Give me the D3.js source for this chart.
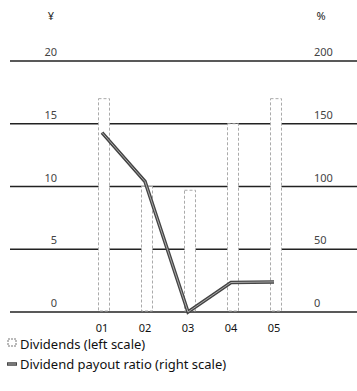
<!DOCTYPE html>
<meta charset="utf-8">
<title>Dividends</title>
<script src="https://d3js.org/d3.v7.min.js"></script>
<style>
    body { margin: 0; background: #fff; }
    text { font-family: "Noto Sans", "Open Sans", sans-serif; }
</style>
<body>
<div id="chart"></div>
<script>
    // data
    var years = ["01", "02", "03", "04", "05"];
    var dividends = [17, 10, 9.7, 15, 17];        // yen, left scale
    var payoutRatio = [143, 104, 0, 23.5, 24];    // %, right scale
    var leftTicks = [0, 5, 10, 15, 20];
    var rightTicks = [0, 50, 100, 150, 200];

    var width = 357, height = 391;

    var svg = d3.select("#chart")
        .append("svg")
        .attr("width", width)
        .attr("height", height);

    // scales
    var x = d3.scalePoint().domain(years).range([102, 274]);
    var yLeft = d3.scaleLinear().domain([0, 20]).range([312, 61]);
    var yRight = d3.scaleLinear().domain([0, 200]).range([312, 61]);

    // grid lines
    svg.selectAll(".grid")
        .data(leftTicks).enter()
        .append("line")
        .attr("x1", 10).attr("x2", width)
        .attr("y1", function(d) { return yLeft(d); })
        .attr("y2", function(d) { return yLeft(d); })
        .style("stroke", "#222")
        .style("stroke-width", 1.4);

    // left tick labels
    svg.selectAll(".lt")
        .data(leftTicks).enter()
        .append("text")
        .attr("x", 57)
        .attr("y", function(d) { return yLeft(d) - 5; })
        .attr("text-anchor", "end")
        .style("font-size", "11px")
        .style("fill", "#444")
        .text(function(d) { return d; });

    // right tick labels
    svg.selectAll(".rt")
        .data(rightTicks).enter()
        .append("text")
        .attr("x", 314)
        .attr("y", function(d) { return yRight(d) - 5; })
        .attr("text-anchor", "start")
        .style("font-size", "11px")
        .style("fill", "#444")
        .text(function(d) { return d; });

    // unit labels
    svg.append("text").attr("x", 51).attr("y", 20)
        .attr("text-anchor", "middle").style("font-size", "11px").style("fill", "#222").text("¥");
    svg.append("text").attr("x", 321).attr("y", 20)
        .attr("text-anchor", "middle").style("font-size", "11px").style("fill", "#222").text("%");

    // bars: white with dashed light outline
    var bw = 11;
    svg.selectAll(".bar")
        .data(dividends).enter()
        .append("rect")
        .attr("x", function(d, i) { return x(years[i]) + 2 - bw / 2; })
        .attr("y", function(d) { return yLeft(d); })
        .attr("width", bw)
        .attr("height", function(d) { return yLeft(0) - yLeft(d) - 1; })
        .style("fill", "#fff")
        .style("stroke", "#aaa")
        .style("stroke-width", 1)
        .style("stroke-dasharray", "3,2");

    // payout ratio line
    var line = d3.line()
        .x(function(d, i) { return x(years[i]); })
        .y(function(d) { return yRight(d); });

    svg.append("path")
        .datum(payoutRatio)
        .attr("d", line)
        .style("fill", "none")
        .style("stroke", "#444")
        .style("stroke-width", 3.5);
    svg.append("path")
        .datum(payoutRatio)
        .attr("d", line)
        .style("fill", "none")
        .style("stroke", "#aaa")
        .style("stroke-width", 1);

    // category labels
    svg.selectAll(".cat")
        .data(years).enter()
        .append("text")
        .attr("x", function(d) { return x(d); })
        .attr("y", 331.5)
        .attr("text-anchor", "middle")
        .style("font-size", "11px")
        .style("fill", "#111")
        .text(function(d) { return d; });

    // legend
    svg.append("rect")
        .attr("x", 8).attr("y", 339).attr("width", 8).attr("height", 7)
        .style("fill", "#fff").style("stroke", "#777").style("stroke-dasharray", "2,1");
    svg.append("text").attr("x", 20).attr("y", 349)
        .style("font-size", "13px").style("fill", "#111").text("Dividends (left scale)");

    svg.append("line").attr("x1", 7).attr("x2", 17).attr("y1", 364).attr("y2", 364)
        .style("stroke", "#444").style("stroke-width", 3.5);
    svg.append("line").attr("x1", 8).attr("x2", 16).attr("y1", 364).attr("y2", 364)
        .style("stroke", "#aaa").style("stroke-width", 1);
    svg.append("text").attr("x", 20).attr("y", 369)
        .style("font-size", "13px").style("fill", "#111").text("Dividend payout ratio (right scale)");
</script>
</body>
